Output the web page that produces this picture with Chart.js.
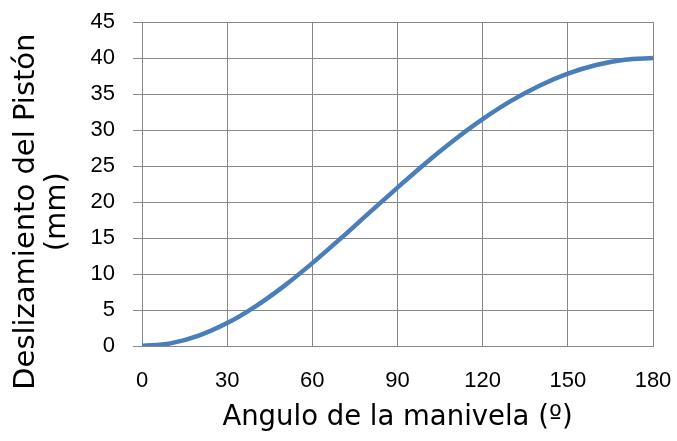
<!DOCTYPE html>
<html>
<head>
<meta charset="utf-8">
<script src="https://cdn.jsdelivr.net/npm/chart.js@4/dist/chart.umd.min.js"></script>
<style>
  html, body { margin: 0; padding: 0; background: #fff; }
  #wrap { width: 677px; height: 441px; position: relative; }
</style>
</head>
<body>
<div id="wrap"><canvas id="c" width="677" height="441"></canvas></div>
<script>
const angles = [0, 10, 20, 30, 40, 50, 60, 70, 80, 90, 100, 110, 120, 130, 140, 150, 160, 170, 180];
const displacement = [0, 0.36, 1.44, 3.18, 5.51, 8.32, 11.51, 14.94, 18.49, 22.0, 25.43, 28.62, 31.51, 34.04, 36.15, 37.82, 39.02, 39.76, 40.0];
const xTicks = [0, 30, 60, 90, 120, 150, 180];
const yTicks = [0, 5, 10, 15, 20, 25, 30, 35, 40, 45];
const xTitle = 'Angulo de la manivela (º)';
const yTitle = ['Deslizamiento del Pistón', '(mm)'];

const gridColor = '#878787';
const points = angles.map((a, i) => ({ x: a, y: displacement[i] }));

new Chart(document.getElementById('c'), {
  type: 'line',
  data: {
    datasets: [{
      data: points,
      borderColor: '#4a7ebb',
      borderWidth: 4.5,
      pointRadius: 0,
      fill: false,
      cubicInterpolationMode: 'monotone',
      borderCapStyle: 'butt'
    }]
  },
  options: {
    responsive: false,
    animation: false,
    layout: { padding: { left: 0, right: 24, top: 22, bottom: 0 } },
    plugins: { legend: { display: false }, tooltip: { enabled: false } },
    scales: {
      x: {
        type: 'linear',
        min: 0, max: 180,
        afterBuildTicks: s => { s.ticks = xTicks.map(v => ({ value: v })); },
        afterFit: s => { s.height = 95; s.paddingLeft = 0; s.paddingRight = 0; },
        grid: { color: gridColor, lineWidth: 1, drawTicks: false },
        border: { color: gridColor, width: 1 },
        ticks: {
          padding: 22,
          color: '#000',
          maxRotation: 0,
          font: { family: 'Liberation Sans', size: 22 }
        },
        title: {
          display: true,
          text: xTitle,
          color: '#000',
          font: { family: 'DejaVu Sans', size: 27.5 },
          padding: { top: 0, bottom: 7 }
        }
      },
      y: {
        min: 0, max: 45,
        afterBuildTicks: s => { s.ticks = yTicks.map(v => ({ value: v })); },
        afterFit: s => { s.width = 142; s.paddingTop = 0; s.paddingBottom = 0; },
        grid: { color: gridColor, lineWidth: 1, tickLength: 9 },
        border: { color: gridColor, width: 1 },
        ticks: {
          padding: 18,
          color: '#000',
          font: { family: 'Liberation Sans', size: 22 }
        },
        title: {
          display: true,
          text: [yTitle[0] + '      ', yTitle[1] + '      '],
          color: '#000',
          font: { family: 'DejaVu Sans', size: 29, lineHeight: 1.07 },
          padding: { top: 11, bottom: 0 }
        }
      }
    }
  }
});
</script>
</body>
</html>
